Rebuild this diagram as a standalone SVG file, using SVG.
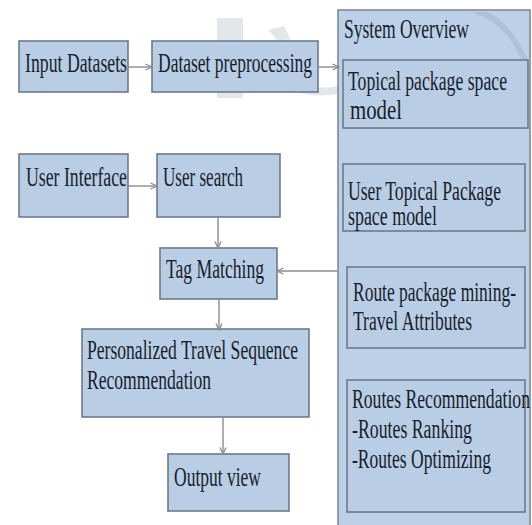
<svg xmlns="http://www.w3.org/2000/svg" width="532" height="525" viewBox="0 0 532 525">
  <style>
    .box { fill: #b9cde5; stroke: #6d7a8c; stroke-width: 1.6; }
    .panel { fill: #bcd0e7; stroke: #7d8a9c; stroke-width: 1.6; }
    .lbl { font-family: "Liberation Serif", "Times New Roman", serif; font-size: 26.5px; fill: #161d2c; }
    .wire { stroke: #8c8c8c; stroke-width: 1.4; fill: none; marker-end: url(#tip); }
    .mark { fill: #7a8696; opacity: 0.2; }
  </style>
  <defs>
    <marker id="tip" viewBox="0 0 8 8" refX="7.5" refY="4" markerWidth="8" markerHeight="8" markerUnits="userSpaceOnUse" orient="auto">
      <path d="M1,1 L7.5,4 L1,7" fill="none" stroke="#8c8c8c" stroke-width="1.3"/>
    </marker>
  </defs>

  <rect width="532" height="525" fill="#ffffff"/>

  <!-- System overview panel -->
  <g id="system-overview">
    <rect class="panel" x="338" y="10" width="192" height="530"/>
    <text class="lbl" x="344" y="38" textLength="125" lengthAdjust="spacingAndGlyphs">System Overview</text>
  </g>

  <!-- faint background logo -->
  <g id="backdrop">
    <rect class="mark" x="217" y="18" width="26" height="80"/>
    <path class="mark" d="M268,30 C285,45 292,75 300,93 C310,96 325,96 338,94 L338,86 C326,88 314,88 308,86 C300,68 292,40 284,26 Z"/>
    <path class="mark" d="M470,12 C500,20 520,45 528,80 L528,60 C518,35 500,18 488,12 Z" opacity="0.1"/>
  </g>

  <g id="input-datasets">
    <rect class="box" x="19" y="41" width="109" height="51"/>
    <text class="lbl" x="25" y="72" textLength="102" lengthAdjust="spacingAndGlyphs">Input Datasets</text>
  </g>

  <g id="dataset-preprocessing">
    <rect class="box" x="152" y="41" width="166" height="51"/>
    <text class="lbl" x="158" y="72" textLength="154" lengthAdjust="spacingAndGlyphs">Dataset preprocessing</text>
  </g>

  <g id="user-interface">
    <rect class="box" x="19" y="154" width="109" height="63"/>
    <text class="lbl" x="26" y="186" textLength="101" lengthAdjust="spacingAndGlyphs">User Interface</text>
  </g>

  <g id="user-search">
    <rect class="box" x="157" y="154" width="123" height="63"/>
    <text class="lbl" x="163" y="186" textLength="80" lengthAdjust="spacingAndGlyphs">User search</text>
  </g>

  <g id="tag-matching">
    <rect class="box" x="160" y="248" width="117" height="51"/>
    <text class="lbl" x="166" y="278" textLength="98" lengthAdjust="spacingAndGlyphs">Tag Matching</text>
  </g>

  <g id="travel-sequence-recommendation">
    <rect class="box" x="82" y="329" width="227" height="88"/>
    <text class="lbl" x="87" y="359" textLength="211" lengthAdjust="spacingAndGlyphs">Personalized Travel Sequence</text>
    <text class="lbl" x="87" y="389" textLength="124" lengthAdjust="spacingAndGlyphs">Recommendation</text>
  </g>

  <g id="output-view">
    <rect class="box" x="168" y="454" width="121" height="57"/>
    <text class="lbl" x="174" y="486" textLength="87" lengthAdjust="spacingAndGlyphs">Output view</text>
  </g>

  <g id="topical-package-space-model">
    <rect class="box" x="343" y="60" width="185" height="68"/>
    <text class="lbl" x="348" y="90" textLength="159" lengthAdjust="spacingAndGlyphs">Topical package space</text>
    <text class="lbl" x="350" y="119" textLength="52" lengthAdjust="spacingAndGlyphs">model</text>
  </g>

  <g id="user-topical-package-space-model">
    <rect class="box" x="343" y="164" width="182" height="67"/>
    <text class="lbl" x="348" y="200" textLength="153" lengthAdjust="spacingAndGlyphs">User Topical Package</text>
    <text class="lbl" x="348" y="225" textLength="89" lengthAdjust="spacingAndGlyphs">space model</text>
  </g>

  <g id="route-package-mining">
    <rect class="box" x="347" y="267" width="178" height="81"/>
    <text class="lbl" x="353" y="301" textLength="163" lengthAdjust="spacingAndGlyphs">Route package mining-</text>
    <text class="lbl" x="353" y="330" textLength="119" lengthAdjust="spacingAndGlyphs">Travel Attributes</text>
  </g>

  <g id="routes-recommendation">
    <rect class="box" x="347" y="380" width="178" height="132"/>
    <text class="lbl" x="352" y="408" textLength="178" lengthAdjust="spacingAndGlyphs">Routes Recommendation</text>
    <text class="lbl" x="352" y="438" textLength="120" lengthAdjust="spacingAndGlyphs">-Routes Ranking</text>
    <text class="lbl" x="352" y="468" textLength="139" lengthAdjust="spacingAndGlyphs">-Routes Optimizing</text>
  </g>

  <!-- connectors -->
  <g id="connectors">
    <line class="wire" x1="128" y1="67" x2="152" y2="67"/>
    <line class="wire" x1="318" y1="67" x2="339" y2="67"/>
    <line class="wire" x1="128" y1="186" x2="157" y2="186"/>
    <line class="wire" x1="218" y1="217" x2="218" y2="248"/>
    <line class="wire" x1="338" y1="271" x2="277" y2="271"/>
    <line class="wire" x1="219" y1="299" x2="219" y2="330"/>
    <line class="wire" x1="223" y1="417" x2="223" y2="454"/>
  </g>
</svg>
